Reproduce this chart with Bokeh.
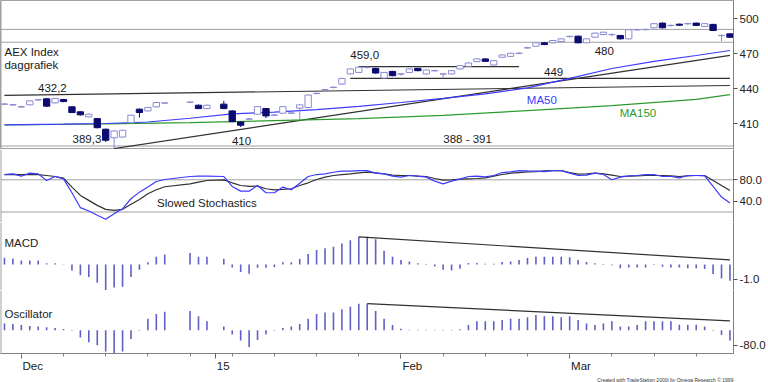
import numpy as np
import pandas as pd
from bokeh.plotting import figure
from bokeh.layouts import column
from bokeh.models import (Range1d, FixedTicker, Label, Span, ColumnDataSource,
                          PrintfTickFormatter, Title, LinearAxis)
from bokeh.embed import file_html
from bokeh.resources import INLINE

# ---------------- data ----------------
START, END = "2014-11-27", "2015-03-27"
holidays = ["2014-12-25", "2014-12-26", "2015-01-01"]
dates = [d.strftime("%Y-%m-%d") for d in pd.bdate_range(START, END)
         if d.strftime("%Y-%m-%d") not in holidays]

open_ = [426.8, 426.2, 424.5, 426.3, 430.5, 431.5, 428.0, 430.9, 424.6, 420.3,
         416.0, 414.5, 405.4, 398.1, 398.7, 411.0, 422.6, 421.1, 424.6, 427.8,
         428.5, 426.0, 423.1,
         426.9, 421.1, 411.6, 414.0, 418.3, 423.1, 417.4, 419.1, 419.1, 423.5,
         424.0, 436.0, 439.2, 441.2, 444.1, 452.8, 454.1, 458.4, 457.6, 449.3,
         455.0, 452.7, 454.1, 457.6, 452.8, 455.5, 452.7, 452.8, 457.1, 459.3,
         463.4, 465.7, 460.5, 467.1, 467.9, 470.4, 475.1, 476.6, 479.5, 479.5,
         480.6, 484.8, 485.2, 479.5, 484.3, 486.6, 486.5, 485.8, 482.9, 490.6,
         490.8, 492.4, 496.4, 494.3, 495.5, 495.8, 496.4, 493.5, 495.3, 485.7, 487.2]
high = [427.8, 427.2, 425.5, 430.2, 431.4, 432.2, 432.0, 431.4, 425.0, 420.8,
        418.8, 415.0, 405.9, 404.4, 405.0, 417.9, 423.1, 424.5, 428.8, 428.5,
        429.2, 426.5, 426.5,
        429.7, 421.6, 412.1, 415.0, 425.3, 423.6, 418.4, 425.3, 420.0, 426.8,
        435.2, 436.8, 440.0, 442.0, 449.5, 457.6, 459.0, 459.0, 458.1, 454.6,
        455.5, 453.6, 457.6, 458.1, 456.7, 456.4, 453.6, 456.1, 460.4, 462.7,
        466.2, 466.2, 464.7, 469.6, 471.0, 471.3, 476.0, 480.0, 480.0, 482.0,
        483.4, 485.7, 485.7, 483.4, 488.3, 489.1, 487.4, 486.3, 491.2, 491.5,
        491.7, 496.4, 496.9, 495.2, 496.0, 496.7, 496.9, 496.4, 495.8, 486.6, 487.7]
low = [426.2, 425.6, 423.8, 425.8, 429.8, 424.5, 427.5, 428.6, 419.2, 417.2,
       415.5, 406.2, 394.5, 389.3, 398.2, 410.5, 415.4, 420.6, 424.1, 427.2,
       427.8, 422.6, 422.6,
       422.6, 411.4, 407.3, 413.3, 417.8, 415.0, 416.6, 418.6, 418.3, 414.2,
       423.5, 435.3, 438.4, 440.4, 443.6, 452.3, 453.6, 457.5, 453.1, 448.8,
       450.8, 451.2, 453.6, 455.1, 452.3, 454.8, 449.6, 452.3, 456.6, 458.8,
       462.9, 463.1, 460.0, 466.6, 467.4, 469.7, 474.4, 476.1, 477.5, 479.0,
       480.1, 484.1, 479.0, 479.0, 483.8, 486.1, 485.0, 482.4, 482.4, 489.9,
       490.1, 491.9, 491.9, 493.3, 494.0, 495.0, 493.9, 493.0, 489.6, 480.9, 483.8]
close = [427.0, 426.4, 424.7, 429.7, 430.7, 425.2, 431.8, 429.1, 419.7, 417.7,
         418.3, 406.7, 395.9, 403.9, 404.5, 417.4, 419.7, 424.0, 428.3, 428.0,
         428.7, 423.1, 426.0,
         423.1, 411.9, 408.8, 414.2, 424.8, 416.8, 417.6, 424.8, 419.3, 426.3,
         434.7, 436.2, 439.4, 441.4, 449.0, 457.1, 458.6, 458.6, 453.6, 454.1,
         451.3, 452.9, 457.1, 455.6, 456.2, 455.7, 452.9, 455.6, 459.9, 462.2,
         465.7, 463.6, 464.2, 469.1, 470.5, 470.6, 475.3, 479.5, 478.0, 481.5,
         482.9, 485.0, 479.5, 482.9, 487.8, 488.6, 486.7, 482.9, 490.7, 490.8,
         491.0, 495.9, 492.4, 494.5, 494.6, 496.0, 494.4, 495.9, 490.1, 485.9, 484.3]

ma50_dates = ["2014-11-27", "2014-12-01", "2014-12-08", "2014-12-15", "2014-12-22",
              "2014-12-29", "2015-01-05", "2015-01-12", "2015-01-19", "2015-01-26",
              "2015-02-02", "2015-02-09", "2015-02-16", "2015-02-23", "2015-03-02",
              "2015-03-09", "2015-03-16", "2015-03-23", "2015-03-27"]
ma50 = [409.2, 409.4, 409.7, 410.3, 411.6, 414.8, 418.5, 420.1, 422.2, 425.0,
        428.3, 431.9, 435.7, 440.9, 449.0, 457.5, 463.6, 468.6, 472.9]
ma150_dates = ["2014-11-27", "2014-12-15", "2014-12-29", "2015-01-12", "2015-01-26",
               "2015-02-09", "2015-02-23", "2015-03-09", "2015-03-23", "2015-03-27"]
ma150 = [409.0, 409.9, 411.1, 412.7, 414.4, 417.3, 421.4, 425.7, 431.0, 435.1]

# drawn trend lines: (start date, start value, end date, end value)
price_trends = [("2014-11-27", 434.4, "2015-03-27", 442.9),
                ("2014-12-16", 388.8, "2015-03-27", 468.8)]
price_levels = [("2015-01-26", "2015-02-20", 459.0),
                ("2015-01-23", "2015-03-27", 449.0)]
price_hlines = [491.0, 480.0, 391.0, 388.0]

stoch_k = [89.8, 91.0, 86.7, 92.3, 91.0, 78.7, 86.1, 81.8, 56.0, 28.1,
           21.9, 13.9, 6.5, 17.0, 26.2, 44.7, 57.0, 66.4, 76.9, 80.6,
           86.1, 86.7, 86.7,
           86.1, 67.6, 58.9, 58.9, 69.4, 55.9, 55.9, 66.4, 61.4, 73.7,
           86.1, 89.8, 91.0, 94.1, 96.0, 96.0, 97.2, 97.2, 92.3, 91.0,
           86.7, 84.9, 88.0, 86.7, 84.9, 77.5, 72.5, 77.5, 81.2, 86.1,
           86.7, 85.5, 88.0, 93.5, 94.7, 97.2, 96.5, 96.0, 95.3, 97.2,
           97.2, 92.3, 88.0, 88.6, 92.3, 89.8, 80.0, 84.9, 87.4, 88.0,
           89.8, 89.8, 86.1, 86.1, 83.6, 88.0, 88.0, 87.4, 67.6, 47.8, 36.7]
stoch_d = [89.8, 90.2, 89.5, 90.0, 89.8, 88.0, 86.1, 83.0, 66.4, 50.9,
           41.7, 32.4, 25.0, 23.1, 25.0, 34.3, 43.5, 54.0, 61.4, 67.0,
           72.5, 75.6, 78.7,
           79.9, 74.4, 69.4, 67.6, 68.2, 63.3, 61.4, 62.1, 63.3, 69.4,
           74.4, 80.6, 84.9, 88.0, 89.8, 91.0, 92.9, 94.1, 92.9, 91.0,
           88.6, 88.0, 88.0, 86.7, 86.1, 82.4, 79.3, 79.9, 81.2, 81.8,
           82.4, 83.6, 86.7, 89.8, 92.3, 93.5, 94.7, 95.3, 96.5, 97.2,
           97.2, 93.5, 90.4, 91.0, 92.3, 91.0, 88.6, 86.1, 86.7, 87.4,
           88.0, 88.0, 88.0, 87.4, 86.1, 87.4, 88.0, 88.0, 78.7, 69.4, 60.2]
stoch_levels = [80, 20]

macd = [0.45, 0.38, 0.27, 0.27, 0.27, 0.09, 0.09, 0.02, -0.40, -0.73,
        -0.84, -1.24, -1.78, -1.55, -1.51, -0.84, -0.36, 0.15, 0.53, 0.67,
        0.78, 0.53, 0.53,
        0.38, -0.20, -0.51, -0.62, -0.22, -0.22, -0.18, 0.15, 0.15, 0.38,
        0.71, 0.98, 1.09, 1.20, 1.42, 1.64, 1.87, 1.87, 1.71, 0.93,
        0.53, 0.31, 0.20, 0.09, 0.04, -0.13, -0.36, -0.40, -0.29, 0.10,
        0.10, 0.05, 0.05, 0.16, 0.20, 0.31, 0.44, 0.53, 0.53, 0.53,
        0.53, 0.49, 0.31, 0.16, 0.09, 0.04, -0.05, -0.25, -0.20, -0.20,
        -0.20, -0.03, -0.15, -0.20, -0.20, -0.25, -0.25, -0.30, -0.65, -0.95, -1.10]
macd_trend = ("2015-01-26", 1.87, "2015-03-27", 0.31)

osc = [36.5, 33, 28, 23, 20, 16.5, 11.5, 6.5, -2, -38.5,
       -63.5, -80, -113.5, -125, -113.5, -47, -3, 61.5, 86.5, 98,
       103, 75, 48,
       20, -22, -55, -88.5, -52, -22, -3, 11.5, 20, 33,
       61.5, 86.5, 95, 95, 111.5, 125, 141.5, 141.5, 103, 61.5,
       28, 8, 3, 3, 3, 3, 3, 3, 5, 28,
       48, 48, 48, 54, 61.5, 61.5, 69, 81.5, 75, 75,
       69, 75, 54, 36.5, 28, 36.5, 48, 20, 20, 28,
       48, 48, 48, 48, 30, 30, 30, 20, -2, -25, -55]
osc_trend = ("2015-01-27", 141.5, "2015-03-27", 50.0)

month_dates = ["2014-12-01", "2015-01-01", "2015-02-02", "2015-03-02"]
month_labels = ["Dec", "15", "Feb", "Mar"]
price_ticks = [410, 440, 470, 500]
stoch_ticks = [40.0, 80.0]
macd_ticks = [-1.0]
osc_ticks = [-80.0]

# ---------------- helpers ----------------
def bpos(d):
    return int(np.busday_count(np.datetime64(START), np.datetime64(d)))

xpos = [bpos(d) for d in dates]
FONT = "Liberation Sans"
FSPX = 11.5
FS = f"{FSPX}px"
TXT = "#1a1a1a"
NAVY = "#0b0b70"
LAV = "#8a8ad4"
BAR = "#5f5fc4"
BLUE = "#3c3cff"
GREEN = "#2e9a2e"
DARK = "#303030"
GRAY = "#a0a0a0"
W, RIGHT = 768, 34

xr = Range1d(-0.47, 86.42)
px_per_bar = (W - RIGHT) / (xr.end - xr.start)


def make_fig(h, yr, ticks, fmt, bottom=0):
    p = figure(width=W, height=h, x_range=xr, y_range=yr, output_backend="svg",
               toolbar_location=None, x_axis_location=("below" if bottom else None),
               y_axis_location="right", min_border_left=0, min_border_right=RIGHT,
               min_border_top=0, min_border_bottom=bottom)
    p.xgrid.visible = False
    p.ygrid.visible = False
    p.outline_line_color = None
    p.background_fill_color = "white"
    p.border_fill_color = "white"
    ax = p.yaxis[0]
    ax.ticker = FixedTicker(ticks=ticks, minor_ticks=[])
    ax.formatter = PrintfTickFormatter(format=fmt)
    ax.axis_line_color = "#808080"
    ax.major_tick_out = 4
    ax.major_tick_in = 0
    ax.minor_tick_out = 0
    ax.minor_tick_in = 0
    ax.major_tick_line_color = "#505050"
    ax.major_label_text_font = FONT
    ax.major_label_text_font_size = FS
    ax.major_label_text_color = "#222222"
    ax.major_label_standoff = 2
    # left frame border
    p.add_layout(Span(location=xr.start, dimension="height", line_color=GRAY, line_width=2))
    return p


def label(p, x, y, text, color=TXT, align="left"):
    p.add_layout(Label(x=x, y=y, text=text, text_font=FONT, text_font_size=FS,
                       text_color=color, text_align=align, text_baseline="middle"))


# ---------------- price panel ----------------
p1 = make_fig(149, Range1d(388, 515.8), price_ticks, "%d")
p1.outline_line_color = GRAY
for lv in price_hlines:
    p1.add_layout(Span(location=lv, dimension="width", line_color=GRAY, line_width=1, level="underlay"))
for d0, v0, d1, v1 in price_trends:
    p1.line([bpos(d0), bpos(d1)], [v0, v1], line_color=DARK, line_width=1.2)
for d0, d1, v in price_levels:
    p1.line([bpos(d0), bpos(d1)], [v, v], line_color=DARK, line_width=1.2)
p1.line([bpos(d) for d in ma150_dates], ma150, line_color=GREEN, line_width=1.2)
p1.line([bpos(d) for d in ma50_dates], ma50, line_color=BLUE, line_width=1.2)

up = [c >= o for o, c in zip(open_, close)]
src = ColumnDataSource(dict(
    x=xpos, high=high, low=low,
    top=[max(o, c) for o, c in zip(open_, close)],
    bottom=[min(o, c) for o, c in zip(open_, close)],
    fill=["white" if u else NAVY for u in up],
    line=[LAV if u else NAVY for u in up]))
p1.segment(x0="x", y0="low", x1="x", y1="high", line_color="line", line_width=1, source=src)
p1.vbar(x="x", width=0.75, top="top", bottom="bottom", fill_color="fill",
        line_color="line", line_width=1, source=src)

label(p1, 0, 471.2, "AEX Index")
label(p1, 0, 460.4, "daggrafiek")
for x, y, t in [(5.68, 440.7, "432,2"), (9.78, 397.4, "389,3"), (28.1, 395.7, "410"),
                (42.7, 469.0, "459,0"), (65.1, 454.9, "449"), (71.1, 472.5, "480"),
                (54.9, 396.6, "388 - 391")]:
    label(p1, x, y, t, align="center")
label(p1, 63.7, 430.4, "MA50", color=BLUE, align="center")
label(p1, 75.1, 419.3, "MA150", color=GREEN, align="center")

# ---------------- stochastics ----------------
p2 = make_fig(73, Range1d(0.5, 136.4), stoch_ticks, "%.1f")
for lv in stoch_levels:
    p2.add_layout(Span(location=lv, dimension="width", line_color=GRAY, line_width=1, level="underlay"))
p2.line(xpos, stoch_d, line_color=DARK, line_width=1.2)
p2.line(xpos, stoch_k, line_color=BLUE, line_width=1.2)
label(p2, 24.0, 36.8, "Slowed Stochastics", align="center")

# ---------------- MACD ----------------
p3 = make_fig(68, Range1d(-1.76, 2.84), macd_ticks, "%.1f")
p3.segment(x0=xpos, y0=[0] * len(xpos), x1=xpos, y1=macd, line_color=BAR, line_width=1.6)
d0, v0, d1, v1 = macd_trend
p3.line([bpos(d0), bpos(d1)], [v0, v1], line_color=DARK, line_width=1.2)
label(p3, 0, 1.43, "MACD")

# ---------------- Oscillator ----------------
p4 = make_fig(92, Range1d(-123.5, 211.5), osc_ticks, "%.1f", bottom=25)
p4.segment(x0=xpos, y0=[0] * len(xpos), x1=xpos, y1=osc, line_color=BAR, line_width=1.6)
d0, v0, d1, v1 = osc_trend
p4.line([bpos(d0), bpos(d1)], [v0, v1], line_color=DARK, line_width=1.2)
label(p4, 0, 89, "Oscillator")

month_pos = [bpos(d) for d in month_dates]
week_pos = [bpos(d.strftime("%Y-%m-%d")) for d in pd.date_range("2014-12-01", END, freq="W-MON")]
# tick axis: line, month ticks and weekly minor ticks, labels not drawn
xa = p4.xaxis[0]
xa.ticker = FixedTicker(ticks=month_pos, minor_ticks=week_pos)
xa.axis_line_color = "#808080"
xa.major_tick_out = 5
xa.major_tick_in = 0
xa.minor_tick_out = 3
xa.minor_tick_in = 0
xa.major_tick_line_color = "#606060"
xa.minor_tick_line_color = "#808080"
xa.major_label_text_font_size = "0px"
xa.major_label_text_color = None
xa.major_label_standoff = 0
# label axis: month names start just right of their tick (left-aligned look)
lab_pos = [round(mp + (len(ml) * 0.3 * FSPX + 1) / px_per_bar, 3)
           for mp, ml in zip(month_pos, month_labels)]
la = LinearAxis(ticker=FixedTicker(ticks=lab_pos, minor_ticks=[]),
                major_label_overrides={lp: ml for lp, ml in zip(lab_pos, month_labels)})
la.axis_line_color = None
la.major_tick_line_color = None
la.minor_tick_line_color = None
la.major_tick_out = 0
la.major_tick_in = 0
la.minor_tick_out = 0
la.minor_tick_in = 0
la.major_label_text_font = FONT
la.major_label_text_font_size = FS
la.major_label_text_color = TXT
la.major_label_standoff = 1
p4.add_layout(la, "below")

credit = Title(text="Created with TradeStation 2000i by Omega Research \u00a9 1999",
               align="right", text_font=FONT, text_font_size="5px", text_font_style="normal",
               text_color="#333333", standoff=0, offset=0)
p4.add_layout(credit, "below")

layout = column(p1, p2, p3, p4, spacing=0)
open("out.html", "w").write(file_html(layout, INLINE))
